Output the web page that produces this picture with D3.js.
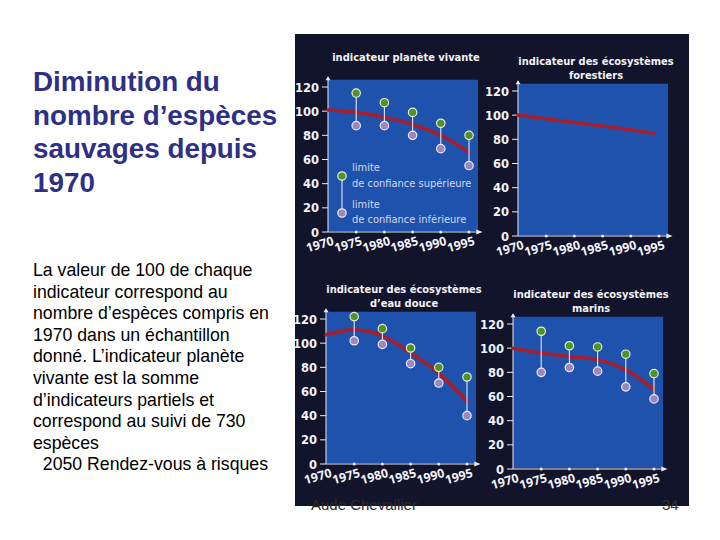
<!DOCTYPE html>
<html>
<head>
<meta charset="utf-8">
<script src="https://cdn.jsdelivr.net/npm/d3@7"></script>
<style>
  body { margin: 0; background: #fff; }
  svg { display: block; }
</style>
</head>
<body>
<div id="chart"></div>
<script>
// Slide text
const titleLines = ["Diminution du", "nombre d\u2019espèces", "sauvages depuis", "1970"];
const bodyLines = [
  "La valeur de 100 de chaque",
  "indicateur correspond au",
  "nombre d\u2019espèces compris en",
  "1970 dans un échantillon",
  "donné. L\u2019indicateur planète",
  "vivante est la somme",
  "d\u2019indicateurs partiels et",
  "correspond au suivi de 730",
  "espèces",
  "  2050 Rendez-vous à risques"
];

// Axis ticks
const yTicks = [0, 20, 40, 60, 80, 100, 120];
const xTicks = [1970, 1975, 1980, 1985, 1990, 1995];

// Series (index 1970 = 100)
const lineYears = [1970, 1975, 1980, 1985, 1990, 1995];
const dotYears = [1975, 1980, 1985, 1990, 1995];

const planeteLine = [101, 99, 95, 89, 80, 66];
const planeteHaut = [115, 107, 99, 90, 80];
const planeteBas = [88, 88, 80, 69, 55];

const foretYears = [1970, 1975, 1980, 1985, 1990, 1994];
const foretLine = [100, 97, 94, 91, 88, 85];

const eauLine = [107, 111, 106, 92, 75, 52];
const eauHaut = [122, 112, 96, 80, 72];
const eauBas = [102, 99, 83, 67, 40];

const marinLine = [100, 96, 93, 90.5, 82, 66];
const marinHaut = [114, 102, 101, 95, 79];
const marinBas = [80, 84, 81, 68, 58];

const svg = d3.select("#chart").append("svg")
  .attr("width", 720)
  .attr("height", 540);

// Left-hand slide text
svg.append("g")
  .selectAll("text")
  .data(titleLines)
  .join("text")
  .attr("x", 33)
  .attr("y", (d, i) => 91 + i * 33.7)
  .attr("fill", "#2e2f86")
  .style("font-family", "Liberation Sans, Arial, sans-serif")
  .style("font-weight", "bold")
  .style("font-size", "27.8px")
  .text(d => d);

svg.append("g")
  .selectAll("text")
  .data(bodyLines)
  .join("text")
  .attr("x", 33)
  .attr("y", (d, i) => 276 + i * 21.6)
  .attr("fill", "#000")
  .attr("xml:space", "preserve")
  .style("white-space", "pre")
  .style("font-family", "Liberation Sans, Arial, sans-serif")
  .style("font-size", "17.7px")
  .text(d => d);

// Black scanned panel
svg.append("rect")
  .attr("x", 295).attr("y", 34)
  .attr("width", 394).attr("height", 472)
  .attr("fill", "#12142c");

const panelFont = "DejaVu Sans Condensed, DejaVu Sans, sans-serif";

const panels = [
  { title: ["indicateur planète vivante"], ox: 328, oy: 232,
    years: lineYears, line: planeteLine, haut: planeteHaut, bas: planeteBas, legend: true },
  { title: ["indicateur des écosystèmes", "forestiers"], ox: 518, oy: 236,
    years: foretYears, line: foretLine },
  { title: ["indicateur des écosystèmes", "d\u2019eau douce"], ox: 326, oy: 464,
    years: lineYears, line: eauLine, haut: eauHaut, bas: eauBas },
  { title: ["indicateur des écosystèmes", "marins"], ox: 513, oy: 469,
    years: lineYears, line: marinLine, haut: marinHaut, bas: marinBas }
];

panels.forEach(p => drawPanel(p));

function drawPanel(p) {
  const x = d3.scaleLinear().domain([1970, 1995]).range([p.ox, p.ox + 141]);
  const y = d3.scaleLinear().domain([0, 120]).range([p.oy, p.oy - 145]);
  const g = svg.append("g");

  // title
  g.selectAll(".ttl")
    .data(p.title)
    .join("text")
    .attr("x", p.ox + 78)
    .attr("y", (d, i) => p.oy - 171 + i * 13.5)
    .attr("text-anchor", "middle")
    .attr("fill", "#f2f2f6")
    .style("font-family", panelFont)
    .style("font-weight", "bold")
    .style("font-size", "11px")
    .text(d => d);

  // blue plotting area
  g.append("rect")
    .attr("x", x(1970))
    .attr("y", y(126))
    .attr("width", 150)
    .attr("height", y(0) - y(126) - 1)
    .attr("fill", "#1f52ad");

  // y axis
  g.append("line")
    .attr("x1", x(1970)).attr("x2", x(1970))
    .attr("y1", y(0)).attr("y2", y(128))
    .attr("stroke", "#e8e8f0").attr("stroke-width", 1);
  g.append("path")
    .attr("d", `M${x(1970) - 2.5},${y(125.5)} L${x(1970)},${y(129)} L${x(1970) + 2.5},${y(125.5)} Z`)
    .attr("fill", "#e8e8f0");
  g.selectAll(".ytick")
    .data(yTicks)
    .join("line")
    .attr("x1", x(1970) - 6).attr("x2", x(1970))
    .attr("y1", d => y(d)).attr("y2", d => y(d))
    .attr("stroke", "#e8e8f0");
  g.selectAll(".ylab")
    .data(yTicks)
    .join("text")
    .attr("x", x(1970) - 9)
    .attr("y", d => y(d) + 4.5)
    .attr("text-anchor", "end")
    .attr("fill", "#f2f2f6")
    .style("font-family", panelFont)
    .style("font-weight", "bold")
    .style("font-size", "12.8px")
    .text(d => d);

  // x axis
  g.append("line")
    .attr("x1", x(1970)).attr("x2", x(1997))
    .attr("y1", y(0)).attr("y2", y(0))
    .attr("stroke", "#e8e8f0").attr("stroke-width", 1);
  g.append("path")
    .attr("d", `M${x(1996.3)},${y(0) - 2.5} L${x(1997.4)},${y(0)} L${x(1996.3)},${y(0) + 2.5} Z`)
    .attr("fill", "#e8e8f0");
  g.selectAll(".xtick")
    .data(xTicks.slice(1))
    .join("circle")
    .attr("cx", d => x(d)).attr("cy", y(0))
    .attr("r", 1.5)
    .attr("fill", "#e8e8f0");
  g.selectAll(".xlab")
    .data(xTicks)
    .join("text")
    .attr("transform", d => `translate(${x(d) - 7},${y(0) + 16.5}) rotate(-16)`)
    .attr("text-anchor", "middle")
    .attr("fill", "#f2f2f6")
    .style("font-family", "Open Sans, sans-serif")
    .style("font-weight", "bold")
    .style("font-size", "12.3px")
    .text(d => d);

  // trend line
  const line = d3.line()
    .x((d, i) => x(p.years[i]))
    .y(d => y(d))
    .curve(d3.curveMonotoneX);
  g.append("path")
    .datum(p.line)
    .attr("d", line)
    .attr("fill", "none")
    .attr("stroke", "#a3202f")
    .attr("stroke-width", 3.6)
    .attr("stroke-linecap", "round");

  // confidence limits
  if (p.haut) {
    g.selectAll(".ci")
      .data(dotYears)
      .join("line")
      .attr("x1", d => x(d)).attr("x2", d => x(d))
      .attr("y1", (d, i) => y(p.haut[i]))
      .attr("y2", (d, i) => y(p.bas[i]))
      .attr("stroke", "#e4e4f2").attr("stroke-width", 1.1);
    g.selectAll(".haut")
      .data(dotYears)
      .join("circle")
      .attr("cx", d => x(d)).attr("cy", (d, i) => y(p.haut[i]))
      .attr("r", 4.2)
      .attr("fill", "#4f9226")
      .attr("stroke", "#e6ecd8").attr("stroke-width", 1.2);
    g.selectAll(".bas")
      .data(dotYears)
      .join("circle")
      .attr("cx", d => x(d)).attr("cy", (d, i) => y(p.bas[i]))
      .attr("r", 4.2)
      .attr("fill", "#9c86bd")
      .attr("stroke", "#ecebf6").attr("stroke-width", 1.2);
  }

  if (p.legend) {
    const lx = p.ox + 14;
    g.append("line")
      .attr("x1", lx).attr("x2", lx)
      .attr("y1", p.oy - 56).attr("y2", p.oy - 19)
      .attr("stroke", "#e4e4f2").attr("stroke-width", 1.1);
    g.append("circle").attr("cx", lx).attr("cy", p.oy - 56).attr("r", 4.2)
      .attr("fill", "#4f9226").attr("stroke", "#e6ecd8").attr("stroke-width", 1.2);
    g.append("circle").attr("cx", lx).attr("cy", p.oy - 19).attr("r", 4.2)
      .attr("fill", "#9c86bd").attr("stroke", "#ecebf6").attr("stroke-width", 1.2);
    const legendLines = [
      ["limite", p.oy - 61.5], ["de confiance supérieure", p.oy - 45.5],
      ["limite", p.oy - 24.5], ["de confiance inférieure", p.oy - 9]
    ];
    g.selectAll(".leg")
      .data(legendLines)
      .join("text")
      .attr("x", lx + 10)
      .attr("y", d => d[1])
      .attr("fill", "#d3d6f0")
      .style("font-family", panelFont)
      .style("font-size", "11px")
      .text(d => d[0]);
  }
}

// Footer
svg.append("text")
  .attr("x", 311).attr("y", 510)
  .attr("fill", "#2a2a2a")
  .style("font-family", "Liberation Sans, Arial, sans-serif")
  .style("font-size", "15px")
  .text("Aude Chevallier");
svg.append("text")
  .attr("x", 662).attr("y", 510)
  .attr("fill", "#333")
  .style("font-family", "Liberation Sans, Arial, sans-serif")
  .style("font-size", "15px")
  .text("34");
</script>
</body>
</html>
